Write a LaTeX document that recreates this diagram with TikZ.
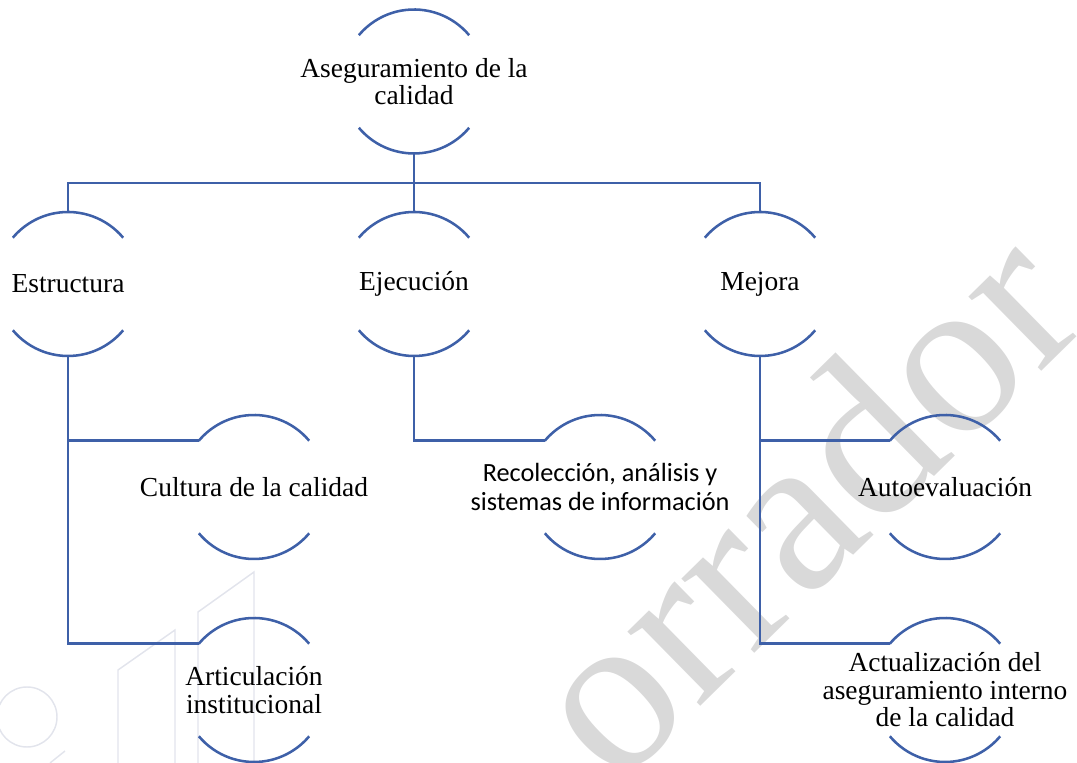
\documentclass[tikz,border=0pt]{standalone}
\usepackage{fontspec}
\setmainfont{Liberation Serif}
\newfontfamily\calibrifont{Carlito}
\definecolor{chartblue}{RGB}{62,96,168}
\definecolor{markgray}{RGB}{217,217,217}
\definecolor{logogray}{RGB}{226,228,236}

\begin{document}
\begin{tikzpicture}[x=0.75pt,y=0.75pt,
    link/.style={chartblue,line width=1.9pt},
    arcnode/.style={circle,minimum size=108pt,inner sep=0pt,outer sep=0pt},
    txt/.style={align=center,font=\fontsize{20.6}{20.6}\selectfont},
    sanstxt/.style={align=center,font=\calibrifont\fontsize{19.7}{21.7}\selectfont}]
    \useasboundingbox (0,0) rectangle (1077,763);

    % background: logo and watermark
    \begin{scope}
        \clip (0,0) rectangle (1077,763);
        \draw[logogray,line width=1.1pt] (27,46) circle[radius=22.5pt];
        \draw[logogray,line width=1.1pt] (118,0) -- (118,93) -- (175,133) -- (175,0);
        \draw[logogray,line width=1.1pt] (198,0) -- (198,151) -- (254,191) -- (254,0);
        \draw[logogray,line width=1.1pt] (50,0) -- (65,12);
        \node[rotate=44.5,text=markgray,font=\fontsize{170}{170}\selectfont] (watermark) at (800,263) {orrador};
    \end{scope}

    % nodes
    \node[arcnode,label={[txt]center:Aseguramiento de la\\calidad}] (root) at (414,681.5) {};
    \node[arcnode,label={[txt]center:Estructura}] (est) at (68,479) {};
    \node[arcnode,label={[txt]center:Ejecución}] (eje) at (414,479) {};
    \node[arcnode,label={[txt]center:Mejora}] (mej) at (760,479) {};
    \node[arcnode,label={[txt]center:Cultura de la calidad}] (cul) at (254,276) {};
    \node[arcnode,label={[txt]center:Articulación\\institucional}] (art) at (254,73) {};
    \node[arcnode,label={[sanstxt]center:{Recolección, análisis y\\sistemas de información}}] (rec) at (600,276) {};
    \node[arcnode,label={[txt]center:Autoevaluación}] (aut) at (945,276) {};
    \node[arcnode,label={[txt]center:Actualización del\\aseguramiento interno\\de la calidad}] (act) at (945,73) {};

    \foreach \n in {root,est,eje,mej,cul,art,rec,aut,act}
        \draw[link] (\n.40) arc[start angle=40,end angle=140,radius=54pt]
                    (\n.220) arc[start angle=220,end angle=320,radius=54pt];

    % connectors
    \coordinate (bar) at (414,580);
    \draw[link] (root.south) -- (eje.north);
    \draw[link] (est.north) -- (est.north |- bar) -- (mej.north |- bar) -- (mej.north);
    \draw[link] (est.south) |- (cul.140);
    \draw[link] (est.south) |- (art.140);
    \draw[link] (eje.south) |- (rec.140);
    \draw[link] (mej.south) |- (aut.140);
    \draw[link] (mej.south) |- (act.140);
\end{tikzpicture}
\end{document}
